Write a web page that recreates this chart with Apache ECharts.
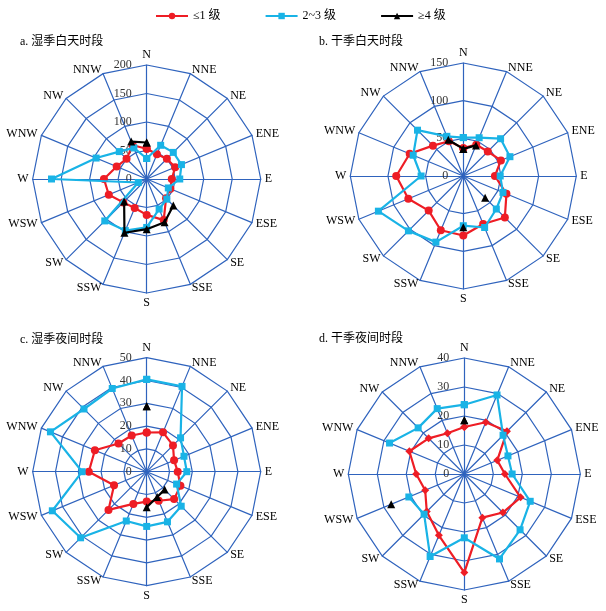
<!DOCTYPE html>
<html><head><meta charset="utf-8">
<script src="https://cdn.jsdelivr.net/npm/echarts@6/dist/echarts.min.js"></script>
<style>html,body{margin:0;padding:0;background:#fff}#c{width:606px;height:611px}</style>
</head><body><div id="c"></div>
<script>
const directions = ['N','NNE','NE','ENE','E','ESE','SE','SSE','S','SSW','SW','WSW','W','WNW','NW','NNW'];
const seriesNames = ['≤1 级','2~3 级','≥4 级'];
const panelTitles = ['a. 湿季白天时段','b. 干季白天时段','c. 湿季夜间时段','d. 干季夜间时段'];
const axisMax = [200, 150, 50, 40];
const axisStep = [50, 50, 10, 10];

// a. wet season daytime
const aLow  = [53, 47, 50, 54, 44, 45, 48, 78, 63, 55, 58, 72, 75, 57, 50, 64];
const aMid  = [36, 64, 66, 66, 58, 41, 50, 57, 85, 98, 104, 16, 167, 96, 68, 59];
const aHigh = [64, null, null, null, null, null, 66, 82, 88, 102, 56, null, null, null, null, 71];
// b. dry season daytime
const bLow  = [37, 45, 46, 54, 42, 62, 78, 69, 79, 78, 65, 79, 89, 77, 57, 50];
const bMid  = [51, 55, 70, 67, 49, 57, 62, 74, 66, 95, 103, 122, 56, 72, 86, 57];
const bHigh = [36, 44, null, null, null, null, 41, null, 68, null, null, null, null, null, null, 52];
// c. wet season night
const cLow  = [17.2, 18.7, 16.3, 13, 13.6, 16, 17, 13.8, 13.1, 15.3, 23.7, 15.5, 25.4, 24.6, 17.5, 17.2];
const cMid  = [40.5, 40.5, 21, 17.7, 17.6, 14.2, 21.4, 23.8, 24, 23.4, 41, 44.8, 28.3, 45.7, 38.9, 39.5];
const cHigh = [28.7, null, null, null, null, null, 11.1, 12, 15.6, null, null, null, null, null, null, null];
// d. dry season night
const dLow  = [16.2, 19.3, 20.8, 12.3, 14, 21, 18.8, 16.3, 34, 22.9, 18.3, 14.6, 16.6, 20.5, 17.4, 15.2];
const dMid  = [23.9, 29.5, 18.9, 16.3, 16.5, 24.6, 27.2, 31.7, 22, 30.8, 19.6, 20.7, null, 27.9, 22.5, 24.4];
const dHigh = [18.5, null, null, null, null, null, null, null, null, null, null, 27.3, null, null, null, null];

const panelData = [[aLow, aMid, aHigh], [bLow, bMid, bHigh], [cLow, cMid, cHigh], [dLow, dMid, dHigh]];

const centers = [[146.7, 179], [463.3, 176], [146.7, 471.7], [464.3, 474]];
const radii = [114, 113, 114, 116];
const titlePos = [[15, 31], [314, 31], [15, 329], [314, 328]];
const colors = ['#ee1d25', '#19b3e6', '#000000'];
const symbols = ['circle', 'rect', 'triangle'];
const gridBlue = '#2f63bd';
const serif = '"Liberation Serif","Times New Roman","Noto Sans CJK SC",serif';

// radar indicators go counter-clockwise: reverse the compass order after N
const radarOrder = [0].concat(directions.slice(1).map((d, i) => 15 - i));

const radar = [], polar = [], angleAxis = [], radiusAxis = [], series = [], titles = [];
for (let p = 0; p < 4; p++) {
  radar.push({
    center: centers[p], radius: radii[p], startAngle: 90, shape: 'polygon',
    splitNumber: axisMax[p] / axisStep[p],
    indicator: radarOrder.map((k, j) => j === 0
      ? { name: directions[k], min: 0, max: axisMax[p], axisLabel: { show: true } }
      : { name: directions[k], min: 0, max: axisMax[p] }),
    axisName: { color: '#000', fontFamily: serif, fontSize: 12 },
    nameGap: 4,
    axisLine: { lineStyle: { color: gridBlue, width: 1.2 } },
    splitLine: { lineStyle: { color: gridBlue, width: 1.2 } },
    splitArea: { show: false },
    axisTick: { show: false },
    axisLabel: { show: false, color: '#333', fontFamily: serif, fontSize: 12, margin: 15 }
  });
  polar.push({ center: centers[p], radius: radii[p] });
  angleAxis.push({ polarIndex: p, type: 'value', min: 0, max: 16, startAngle: 90, clockwise: true, show: false });
  radiusAxis.push({ polarIndex: p, type: 'value', min: 0, max: axisMax[p], show: false });
  titles.push({ text: panelTitles[p], left: titlePos[p][0], top: titlePos[p][1],
    textStyle: { fontFamily: serif, fontSize: 12, fontWeight: 'normal', color: '#000' } });
  for (let s = 0; s < 3; s++) {
    const vals = panelData[p][s];
    const pts = vals.map((v, k) => [v, k]);
    pts.push([vals[0], 16]);
    series.push({
      name: seriesNames[s], type: 'line', coordinateSystem: 'polar', polarIndex: p,
      data: pts, connectNulls: false, z: 3 + s,
      symbol: (p === 3 && s === 0) ? 'diamond' : symbols[s],
      symbolSize: s === 2 ? 8 : (s === 0 ? 8 : 7),
      lineStyle: { color: colors[s], width: 2.2 },
      itemStyle: { color: colors[s] },
      animation: false
    });
  }
}

const chart = echarts.init(document.getElementById('c'));
chart.setOption({
  animation: false,
  title: titles,
  legend: {
    data: seriesNames, top: 5, left: 150, itemWidth: 32, itemHeight: 8, itemGap: 44,
    textStyle: { fontFamily: serif, fontSize: 12, color: '#000' }
  },
  radar, polar, angleAxis, radiusAxis, series
});
</script></body></html>
